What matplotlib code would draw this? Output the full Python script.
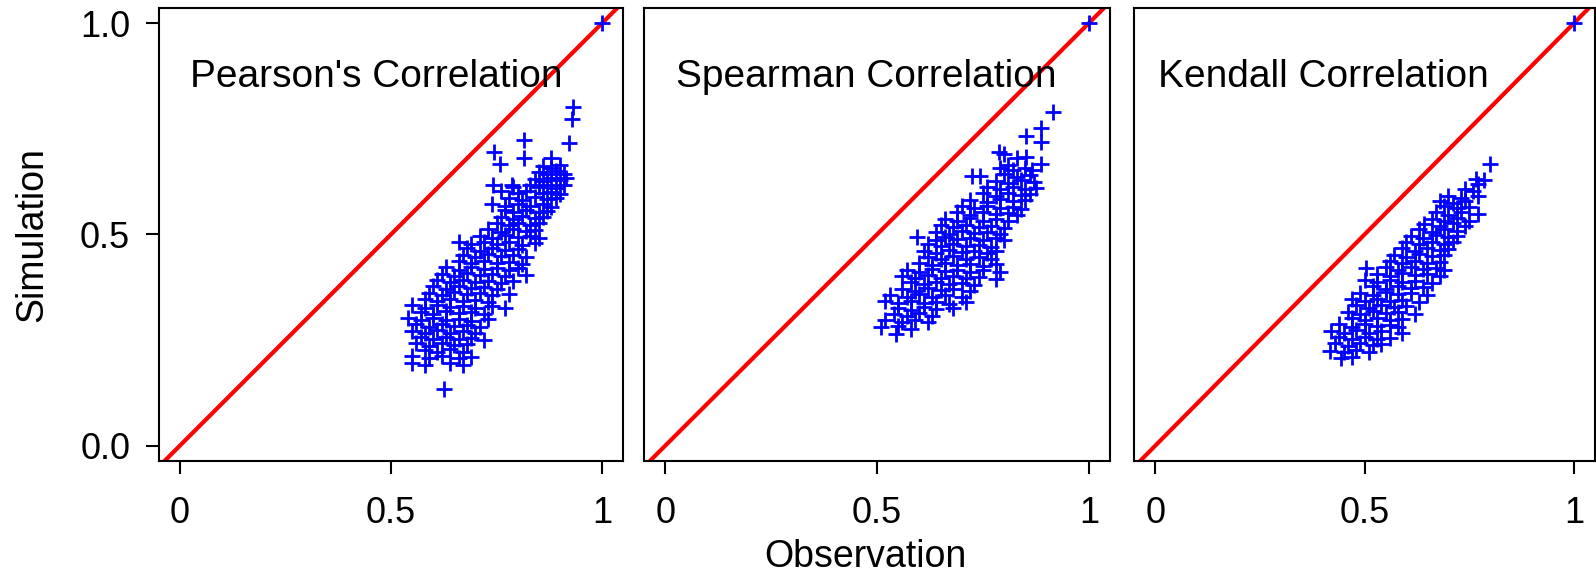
import matplotlib
matplotlib.use('Agg')
import matplotlib.pyplot as plt

plt.rcParams['font.family'] = ['Liberation Sans', 'DejaVu Sans']

# (observation, simulation) pairs
pearson_pts = [
    (1.00, 1.00),
    (0.930, 0.801), (0.928, 0.773), (0.922, 0.716), (0.816, 0.724), (0.744, 0.695),
    (0.816, 0.682), (0.880, 0.681), (0.758, 0.667), (0.742, 0.617), (0.787, 0.617),
    (0.625, 0.135),
    (0.86, 0.662), (0.88, 0.658), (0.90, 0.664),
    (0.85, 0.647), (0.87, 0.642), (0.89, 0.649), (0.91, 0.644),
    (0.84, 0.632), (0.86, 0.627), (0.88, 0.634), (0.90, 0.629), (0.915, 0.633),
    (0.79, 0.613), (0.83, 0.618), (0.85, 0.612), (0.87, 0.617), (0.89, 0.611), (0.91, 0.616),
    (0.76, 0.602), (0.80, 0.597), (0.82, 0.603), (0.86, 0.598), (0.88, 0.601), (0.90, 0.596),
    (0.78, 0.587), (0.81, 0.582), (0.84, 0.588), (0.87, 0.583), (0.89, 0.586),
    (0.74, 0.572), (0.77, 0.567), (0.80, 0.573), (0.83, 0.568), (0.86, 0.571), (0.88, 0.566),
    (0.77, 0.557), (0.79, 0.552), (0.82, 0.558), (0.85, 0.553), (0.87, 0.556),
    (0.76, 0.542), (0.79, 0.537), (0.81, 0.543), (0.84, 0.538), (0.86, 0.541),
    (0.75, 0.527), (0.78, 0.522), (0.80, 0.528), (0.83, 0.523), (0.85, 0.526),
    (0.73, 0.512), (0.76, 0.507), (0.79, 0.513), (0.82, 0.508), (0.84, 0.511),
    (0.71, 0.497), (0.74, 0.492), (0.77, 0.498), (0.80, 0.493), (0.83, 0.496), (0.85, 0.491),
    (0.66, 0.482), (0.69, 0.477), (0.72, 0.483), (0.75, 0.478), (0.78, 0.481), (0.81, 0.476),
    (0.84, 0.480),
    (0.68, 0.467), (0.71, 0.462), (0.74, 0.468), (0.77, 0.463), (0.80, 0.466),
    (0.67, 0.452), (0.70, 0.447), (0.73, 0.453), (0.76, 0.448), (0.79, 0.451), (0.82, 0.446),
    (0.66, 0.437), (0.69, 0.432), (0.72, 0.438), (0.75, 0.433), (0.78, 0.436), (0.81, 0.431),
    (0.63, 0.422), (0.66, 0.417), (0.69, 0.423), (0.72, 0.418), (0.75, 0.421), (0.78, 0.416),
    (0.80, 0.420),
    (0.62, 0.407), (0.65, 0.402), (0.68, 0.408), (0.71, 0.403), (0.74, 0.406), (0.77, 0.401),
    (0.82, 0.405),
    (0.61, 0.392), (0.64, 0.387), (0.67, 0.393), (0.70, 0.388), (0.73, 0.391), (0.76, 0.386),
    (0.79, 0.390),
    (0.60, 0.377), (0.63, 0.372), (0.66, 0.378), (0.69, 0.373), (0.72, 0.376), (0.75, 0.371),
    (0.59, 0.362), (0.62, 0.357), (0.65, 0.363), (0.68, 0.358), (0.71, 0.361), (0.74, 0.356),
    (0.78, 0.360),
    (0.58, 0.347), (0.61, 0.342), (0.64, 0.348), (0.67, 0.343), (0.70, 0.346), (0.73, 0.341),
    (0.55, 0.332), (0.58, 0.327), (0.61, 0.333), (0.64, 0.328), (0.67, 0.331), (0.70, 0.326),
    (0.74, 0.330), (0.77, 0.325),
    (0.57, 0.317), (0.60, 0.312), (0.63, 0.318), (0.66, 0.313), (0.69, 0.316), (0.72, 0.311),
    (0.54, 0.302), (0.57, 0.297), (0.60, 0.303), (0.63, 0.298), (0.66, 0.301), (0.69, 0.296),
    (0.73, 0.300),
    (0.56, 0.287), (0.59, 0.282), (0.62, 0.288), (0.65, 0.283), (0.68, 0.286), (0.71, 0.281),
    (0.55, 0.272), (0.58, 0.267), (0.61, 0.273), (0.64, 0.268), (0.67, 0.271), (0.70, 0.266),
    (0.57, 0.257), (0.60, 0.252), (0.63, 0.258), (0.66, 0.253), (0.69, 0.256), (0.72, 0.251),
    (0.56, 0.242), (0.59, 0.237), (0.62, 0.243), (0.65, 0.238), (0.68, 0.241),
    (0.58, 0.227), (0.61, 0.222), (0.64, 0.228), (0.67, 0.223),
    (0.55, 0.212), (0.59, 0.207), (0.62, 0.213), (0.66, 0.208), (0.69, 0.211),
    (0.55, 0.197), (0.58, 0.192), (0.64, 0.196), (0.67, 0.191),
]

spearman_pts = [
    (1.00, 1.00),
    (0.915, 0.790), (0.887, 0.752), (0.851, 0.732), (0.887, 0.718),
    (0.788, 0.696), (0.800, 0.690), (0.851, 0.684), (0.830, 0.680),
    (0.887, 0.667), (0.810, 0.664),
    (0.79, 0.657), (0.82, 0.652), (0.85, 0.658), (0.865, 0.653),
    (0.724, 0.639), (0.744, 0.639), (0.80, 0.642), (0.83, 0.637), (0.86, 0.641),
    (0.78, 0.627), (0.81, 0.622), (0.84, 0.628), (0.87, 0.623),
    (0.76, 0.612), (0.79, 0.607), (0.82, 0.613), (0.85, 0.608), (0.875, 0.611),
    (0.75, 0.597), (0.78, 0.592), (0.81, 0.598), (0.84, 0.593), (0.86, 0.596),
    (0.72, 0.582), (0.76, 0.577), (0.79, 0.583), (0.82, 0.578), (0.85, 0.581),
    (0.70, 0.567), (0.73, 0.562), (0.76, 0.568), (0.79, 0.563), (0.82, 0.566), (0.84, 0.561),
    (0.69, 0.552), (0.72, 0.547), (0.75, 0.553), (0.78, 0.548), (0.81, 0.551), (0.83, 0.546),
    (0.66, 0.537), (0.69, 0.532), (0.72, 0.538), (0.75, 0.533), (0.78, 0.536), (0.81, 0.531),
    (0.65, 0.522), (0.68, 0.517), (0.71, 0.523), (0.74, 0.518), (0.77, 0.521), (0.80, 0.516),
    (0.64, 0.507), (0.67, 0.502), (0.70, 0.508), (0.73, 0.503), (0.76, 0.506), (0.79, 0.501),
    (0.594, 0.493), (0.64, 0.488), (0.66, 0.494), (0.69, 0.489), (0.72, 0.492), (0.75, 0.487),
    (0.78, 0.491), (0.80, 0.486),
    (0.62, 0.477), (0.65, 0.472), (0.68, 0.478), (0.71, 0.473), (0.74, 0.476), (0.77, 0.471),
    (0.61, 0.462), (0.64, 0.457), (0.67, 0.463), (0.70, 0.458), (0.73, 0.461), (0.76, 0.456),
    (0.78, 0.460),
    (0.62, 0.447), (0.65, 0.442), (0.68, 0.448), (0.71, 0.443), (0.74, 0.446), (0.77, 0.441),
    (0.60, 0.432), (0.63, 0.427), (0.66, 0.433), (0.69, 0.428), (0.72, 0.431), (0.75, 0.426),
    (0.78, 0.430),
    (0.57, 0.417), (0.60, 0.412), (0.63, 0.418), (0.66, 0.413), (0.69, 0.416), (0.72, 0.411),
    (0.75, 0.415), (0.79, 0.410),
    (0.56, 0.402), (0.59, 0.397), (0.62, 0.403), (0.65, 0.398), (0.68, 0.401), (0.71, 0.396),
    (0.74, 0.400), (0.78, 0.395),
    (0.58, 0.387), (0.61, 0.382), (0.64, 0.388), (0.67, 0.383), (0.70, 0.386), (0.73, 0.381),
    (0.56, 0.372), (0.59, 0.367), (0.62, 0.373), (0.65, 0.368), (0.68, 0.371), (0.72, 0.366),
    (0.53, 0.357), (0.57, 0.352), (0.60, 0.358), (0.63, 0.353), (0.66, 0.356), (0.70, 0.351),
    (0.52, 0.342), (0.55, 0.337), (0.58, 0.343), (0.61, 0.338), (0.64, 0.341), (0.67, 0.336),
    (0.71, 0.340),
    (0.55, 0.327), (0.58, 0.322), (0.61, 0.328), (0.64, 0.323), (0.68, 0.326),
    (0.54, 0.312), (0.57, 0.307), (0.60, 0.313), (0.63, 0.308),
    (0.52, 0.297), (0.56, 0.292), (0.59, 0.298), (0.62, 0.293),
    (0.51, 0.280), (0.55, 0.283), (0.58, 0.277),
    (0.545, 0.265),
]

kendall_pts = [
    (1.00, 1.00),
    (0.800, 0.667), (0.765, 0.632), (0.785, 0.628), (0.772, 0.620),
    (0.74, 0.607), (0.76, 0.602),
    (0.70, 0.592), (0.73, 0.587), (0.772, 0.590),
    (0.681, 0.578), (0.71, 0.575), (0.74, 0.580),
    (0.69, 0.567), (0.72, 0.562), (0.75, 0.566),
    (0.67, 0.552), (0.70, 0.547), (0.73, 0.553), (0.772, 0.549),
    (0.66, 0.537), (0.69, 0.532), (0.72, 0.538), (0.75, 0.533),
    (0.642, 0.524), (0.68, 0.521), (0.71, 0.526), (0.74, 0.520),
    (0.63, 0.512), (0.66, 0.507), (0.69, 0.513), (0.72, 0.508),
    (0.61, 0.497), (0.64, 0.492), (0.67, 0.498), (0.70, 0.493), (0.72, 0.496),
    (0.60, 0.482), (0.63, 0.477), (0.66, 0.483), (0.69, 0.478), (0.71, 0.481),
    (0.59, 0.467), (0.62, 0.462), (0.65, 0.468), (0.68, 0.463), (0.70, 0.466),
    (0.57, 0.452), (0.60, 0.447), (0.63, 0.453), (0.66, 0.448), (0.69, 0.451),
    (0.56, 0.437), (0.59, 0.432), (0.62, 0.438), (0.65, 0.433), (0.68, 0.436),
    (0.504, 0.420), (0.55, 0.422), (0.58, 0.417), (0.61, 0.423), (0.64, 0.418), (0.67, 0.421),
    (0.69, 0.416),
    (0.53, 0.407), (0.56, 0.402), (0.59, 0.408), (0.62, 0.403), (0.65, 0.406), (0.68, 0.401),
    (0.50, 0.392), (0.53, 0.387), (0.56, 0.393), (0.59, 0.388), (0.62, 0.391), (0.66, 0.386),
    (0.52, 0.377), (0.55, 0.372), (0.58, 0.378), (0.61, 0.373), (0.64, 0.376),
    (0.49, 0.362), (0.52, 0.357), (0.55, 0.363), (0.58, 0.358), (0.61, 0.361), (0.65, 0.356),
    (0.47, 0.347), (0.50, 0.342), (0.53, 0.348), (0.56, 0.343), (0.59, 0.346), (0.63, 0.341),
    (0.48, 0.332), (0.51, 0.327), (0.54, 0.333), (0.57, 0.328), (0.60, 0.331),
    (0.46, 0.317), (0.49, 0.312), (0.52, 0.318), (0.55, 0.313), (0.58, 0.316), (0.62, 0.311),
    (0.47, 0.302), (0.50, 0.297), (0.53, 0.303), (0.56, 0.298), (0.59, 0.301),
    (0.44, 0.287), (0.47, 0.282), (0.50, 0.288), (0.53, 0.283), (0.56, 0.286), (0.58, 0.281),
    (0.42, 0.272), (0.45, 0.267), (0.48, 0.273), (0.51, 0.268), (0.54, 0.271), (0.59, 0.266),
    (0.44, 0.257), (0.47, 0.252), (0.50, 0.258), (0.53, 0.253), (0.56, 0.256),
    (0.43, 0.242), (0.46, 0.237), (0.49, 0.243), (0.52, 0.238), (0.54, 0.241),
    (0.417, 0.225), (0.45, 0.222), (0.48, 0.227), (0.51, 0.223),
    (0.444, 0.207), (0.47, 0.210),
]

panel_titles = ["Pearson's Correlation", "Spearman Correlation", "Kendall Correlation"]
title_x = [0.025, 0.026, 0.007]
panel_data = [pearson_pts, spearman_pts, kendall_pts]

x_ticks = [0, 0.5, 1]
x_ticklabels = ['0', '0.5', '1']
y_ticks = [0.0, 0.5, 1.0]
y_ticklabels = ['0.0', '0.5', '1.0']

fig = plt.figure(figsize=(15.96, 5.76), dpi=100)
lefts = [0.0994, 0.4035, 0.7107]
widths = [0.2911, 0.2920, 0.2886]

for i in range(3):
    ax = fig.add_axes([lefts[i], 0.1997, widths[i], 0.7865])
    obs = [p[0] for p in panel_data[i]]
    sim = [p[1] for p in panel_data[i]]
    ax.axline((0, 0), (1, 1), color='#ff0000', lw=3.0, zorder=1)
    ax.plot(obs, sim, '+', color='#0000ff', ms=12, mew=2.0, zorder=2)
    ax.set_xlim(-0.05, 1.05)
    ax.set_ylim(-0.036, 1.036)
    ax.set_xticks(x_ticks)
    ax.set_xticklabels(x_ticklabels)
    if i == 0:
        ax.set_yticks(y_ticks)
        ax.set_yticklabels(y_ticklabels)
    else:
        ax.set_yticks([])
    ax.tick_params(axis='x', direction='out', length=9.5, width=1.5, labelsize=26, pad=16)
    ax.tick_params(axis='y', direction='out', length=9.5, width=1.5, labelsize=26, pad=11)
    for s in ax.spines.values():
        s.set_linewidth(1.5)
    ax.text(title_x[i], 0.849, panel_titles[i], fontsize=28, ha='left', va='baseline')

fig.text(0.542, 0.001, 'Observation', fontsize=27, ha='center', va='bottom')
fig.text(0.020, 0.593, 'Simulation', fontsize=27, ha='center', va='center', rotation=90)

fig.savefig('out.png', dpi=100)
